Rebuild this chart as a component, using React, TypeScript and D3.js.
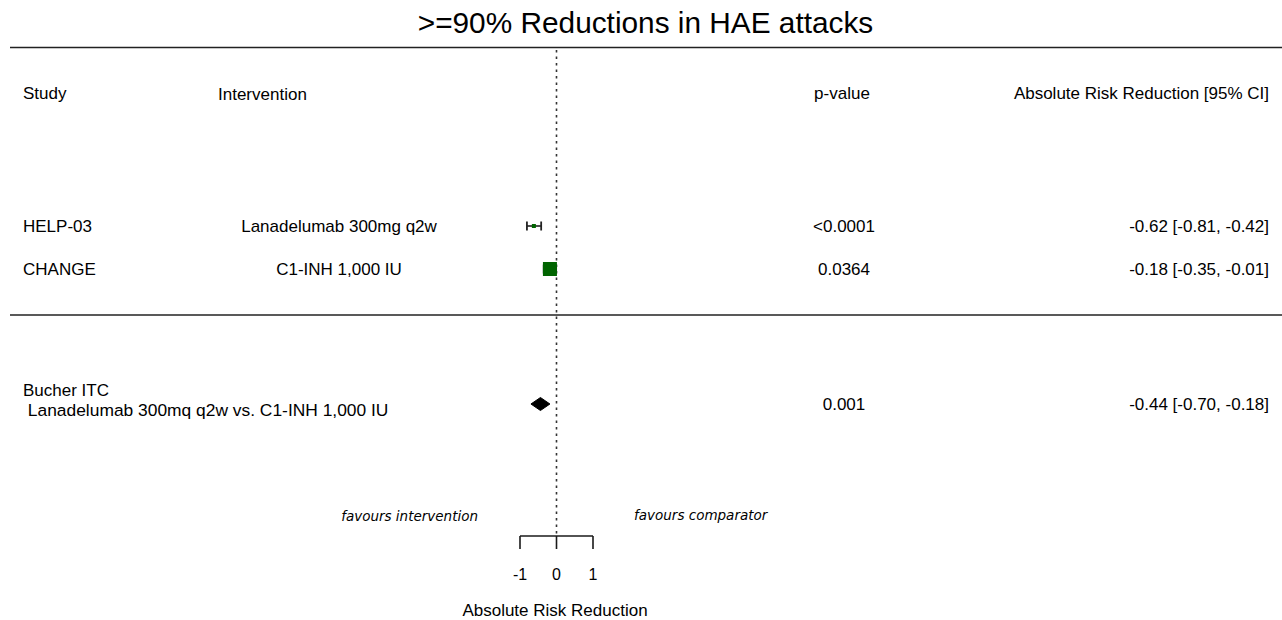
import React from "react";
import * as d3 from "d3";

// ---------- data ----------
const title = ">=90% Reductions in HAE attacks";
const studies = ["HELP-03", "CHANGE"];
const interventions = ["Lanadelumab 300mg q2w", "C1-INH 1,000 IU"];
const estimates = [-0.62, -0.18];
const lowers = [-0.81, -0.35];
const uppers = [-0.42, -0.01];
const pValues = ["<0.0001", "0.0364"];

const pooledLabel = ["Bucher ITC", " Lanadelumab 300mq q2w vs. C1-INH 1,000 IU"];
const pooledEstimate = -0.44;
const pooledLower = -0.7;
const pooledUpper = -0.18;
const pooledP = "0.001";

const axisTicks = [-1, 0, 1];
const headers = { study: "Study", intervention: "Intervention", p: "p-value", arr: "Absolute Risk Reduction [95% CI]" };
const favourLeft = "favours intervention";
const favourRight = "favours comparator";
const axisTitle = "Absolute Risk Reduction";

// ---------- layout / style ----------
const W = 1282;
const H = 620;
const FONT = "'Liberation Sans', Arial, sans-serif";
const FS = 17;
const rowY = [226, 269];
const pooledY = 404;
const boxSizes = [4, 14];
const green = "#006400";
const ink = "#1a1a1a";

const fmt = (v: number) => v.toFixed(2);

export default function App() {
  const x = d3.scaleLinear().domain([-1, 1]).range([520, 593]);
  const zero = x(0);
  const axisY = 536;

  const diamond = [
    [x(pooledLower), pooledY],
    [x(pooledEstimate), pooledY - 6.5],
    [x(pooledUpper), pooledY],
    [x(pooledEstimate), pooledY + 6.5],
  ];
  const diamondPath = d3.line()(diamond as [number, number][]) + "Z";

  return (
    <div style={{ position: "absolute", left: 0, top: 0 }}>
      <svg width={W} height={H} style={{ display: "block", background: "#fff" }} fontFamily={FONT}>
        <text x={645.5} y={33} textAnchor="middle" fontSize={29.8} fill="#000">{title}</text>
        <line x1={10} x2={W} y1={47.5} y2={47.5} stroke="#222" strokeWidth={1.6} />
        <line x1={10} x2={W} y1={315} y2={315} stroke="#222" strokeWidth={1.6} />

        {/* null line */}
        <line x1={zero} x2={zero} y1={50} y2={axisY} stroke="#333" strokeWidth={1.6} strokeDasharray="2.5,4" />

        {/* headers */}
        <g fontSize={FS} fill="#000">
          <text x={23} y={99}>{headers.study}</text>
          <text x={218} y={100}>{headers.intervention}</text>
          <text x={842} y={99} textAnchor="middle">{headers.p}</text>
          <text x={1269} y={99} textAnchor="end">{headers.arr}</text>
        </g>

        {/* studies */}
        {studies.map((s, i) => {
          const y = rowY[i];
          const cx = x(estimates[i]);
          const b = boxSizes[i];
          return (
            <g key={s}>
              <text x={23} y={y + 6} fontSize={FS}>{s}</text>
              <text x={339} y={y + 6} fontSize={FS} textAnchor="middle">{interventions[i]}</text>
              <text x={844} y={y + 6} fontSize={FS} textAnchor="middle">{pValues[i]}</text>
              <text x={1269} y={y + 6} fontSize={FS} textAnchor="end">
                {`${fmt(estimates[i])} [${fmt(lowers[i])}, ${fmt(uppers[i])}]`}
              </text>
              <line x1={x(lowers[i])} x2={x(uppers[i])} y1={y} y2={y} stroke="#222" strokeWidth={1.6} />
              <line x1={x(lowers[i])} x2={x(lowers[i])} y1={y - 4.5} y2={y + 4.5} stroke="#222" strokeWidth={1.8} />
              <line x1={x(uppers[i])} x2={x(uppers[i])} y1={y - 4.5} y2={y + 4.5} stroke="#222" strokeWidth={1.8} />
              <rect x={cx - b / 2} y={y - b / 2} width={b} height={b} fill={green} />
            </g>
          );
        })}

        {/* pooled */}
        <text x={23} y={396} fontSize={FS}>{pooledLabel[0]}</text>
        <text x={23} y={415.5} fontSize={17.4} style={{ whiteSpace: "pre" }}>{pooledLabel[1]}</text>
        <text x={844} y={pooledY + 6} fontSize={FS} textAnchor="middle">{pooledP}</text>
        <text x={1269} y={pooledY + 6} fontSize={FS} textAnchor="end">
          {`${fmt(pooledEstimate)} [${fmt(pooledLower)}, ${fmt(pooledUpper)}]`}
        </text>
        <path d={diamondPath} fill="#000" stroke="#000" strokeWidth={1} />

        {/* favours */}
        <text x={478} y={521} fontSize={13.5} fontStyle="italic" textAnchor="end" fontFamily="'DejaVu Sans', Verdana, sans-serif">{favourLeft}</text>
        <text x={634} y={520} fontSize={13.5} fontStyle="italic" fontFamily="'DejaVu Sans', Verdana, sans-serif">{favourRight}</text>

        {/* axis */}
        <line x1={x(-1)} x2={x(1)} y1={axisY} y2={axisY} stroke={ink} strokeWidth={1.6} />
        {axisTicks.map((t) => (
          <g key={t}>
            <line x1={x(t)} x2={x(t)} y1={axisY} y2={axisY + 13} stroke={ink} strokeWidth={1.6} />
            <text x={x(t)} y={580} fontSize={16} textAnchor="middle">{String(t)}</text>
          </g>
        ))}
        <text x={555} y={616} fontSize={FS} textAnchor="middle">{axisTitle}</text>
      </svg>
    </div>
  );
}
